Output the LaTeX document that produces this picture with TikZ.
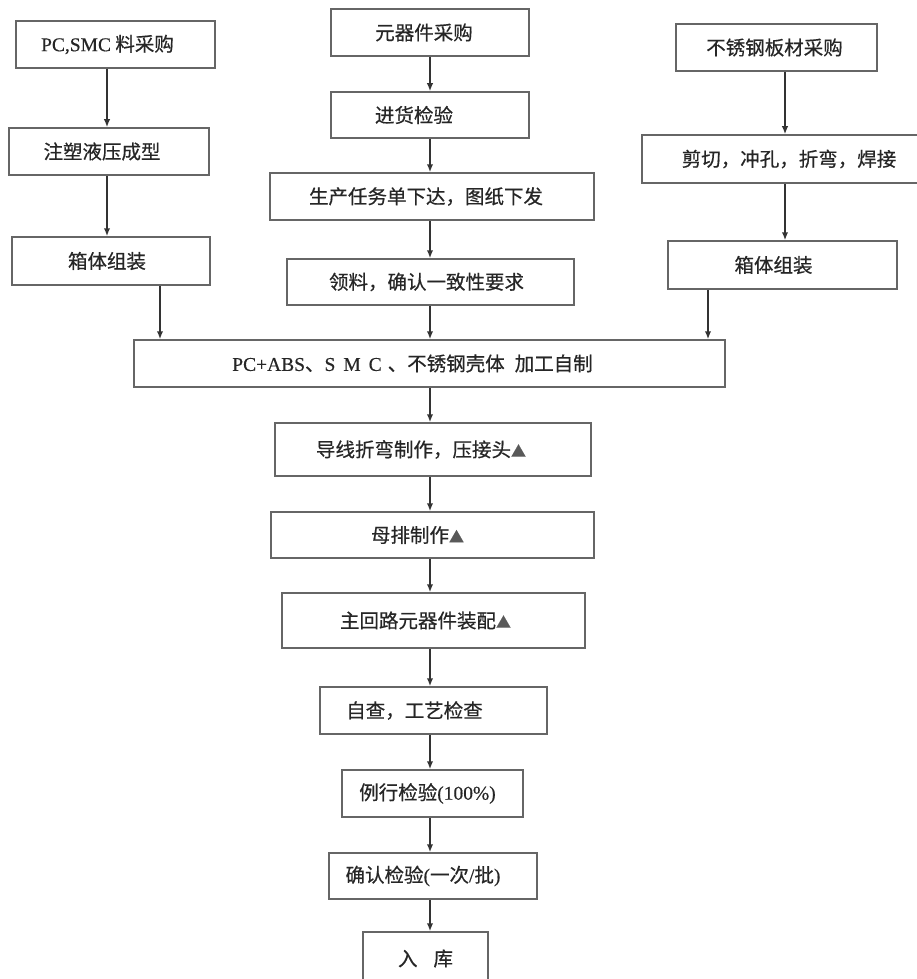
\documentclass[tikz,border=0pt]{standalone}
\usepackage{fontspec}
\setmainfont{Liberation Serif}[FakeBold=0.5]
\newfontfamily\cjk{Noto Sans CJK SC}[FakeBold=0.6]
\usetikzlibrary{arrows.meta}
\newcommand{\tri}{{\color{black!65}\fontsize{15}{15}\selectfont▲}}

\begin{document}
\begin{tikzpicture}[x=1pt,y=-1pt,
	box/.style={draw=black!60,line width=1.5pt,inner sep=0pt,text=black!85,
		font=\cjk\fontsize{19.5}{23}\selectfont},
	arr/.style={draw=black!80,line width=1.6pt,-{Latex[length=8pt,width=6.5pt]}}]
	
	\clip (0,0) rectangle (917,979);
	\useasboundingbox (0,0) rectangle (917,979);
	
	%左列
	\node[box,minimum width=199pt,minimum height=47pt] (pcsmc) at (115.5,44.5) {{\rmfamily PC,SMC} 料采购\kern16pt};
	\node[box,minimum width=200pt,minimum height=47pt] (zhusu) at (109,151.5) {注塑液压成型\kern14pt};
	\node[box,minimum width=198pt,minimum height=48pt] (xiangL) at (111,261) {箱体组装\kern8pt};
	
	%中列
	\node[box,minimum width=198pt,minimum height=47pt] (yqj) at (430,32.5) {元器件采购\kern12pt};
	\node[box,minimum width=198pt,minimum height=46pt] (jinhuo) at (430,115) {进货检验\kern32pt};
	\node[box,minimum width=324pt,minimum height=47pt] (scrw) at (432,196.5) {生产任务单下达，图纸下发\kern12pt};
	\node[box,minimum width=287pt,minimum height=46pt] (lingliao) at (430.5,282) {领料，确认一致性要求\kern8pt};
	
	%右列
	\node[box,minimum width=201pt,minimum height=47pt] (buxiu) at (776.5,47.5) {不锈钢板材采购\kern4pt};
	\node[box,minimum width=294pt,minimum height=48pt] (jianqie) at (789,159) {剪切，冲孔，折弯，焊接};
	\node[box,minimum width=229pt,minimum height=48pt] (xiangR) at (782.5,265) {箱体组装\kern18pt};
	
	%壳体
	\node[box,minimum width=591pt,minimum height=47pt] (big) at (429.5,363.5) {{\rmfamily PC+ABS}、{\rmfamily S\hspace{8pt}M\hspace{8pt}C}\hspace{6pt}、不锈钢壳体\hspace{10pt}加工自制\kern34pt};
	
	%装配
	\node[box,minimum width=316pt,minimum height=53pt] (daoxian) at (433,449.5) {导线折弯制作，压接头\tri\kern24pt};
	\node[box,minimum width=323pt,minimum height=46pt] (muapai) at (432.5,535) {母排制作\tri\kern30pt};
	\node[box,minimum width=303pt,minimum height=55pt] (zhuhuilu) at (433.5,620.5) {主回路元器件装配\tri\kern16pt};
	\node[box,minimum width=227pt,minimum height=47pt] (zicha) at (433.5,710.5) {自查，工艺检查\kern38pt};
	\node[box,minimum width=181pt,minimum height=47pt] (lixing) at (432.5,793.5) {例行检验{\rmfamily(100\%)}\kern10pt};
	\node[box,minimum width=208pt,minimum height=46pt] (queren) at (433,876) {确认检验{\rmfamily(}一次{\rmfamily/}批{\rmfamily)}\kern20pt};
	\node[box,minimum width=125pt,minimum height=53pt] (ruku) at (425.5,958.5) {入\hspace{16pt}库};
	
	%箭头
	\coordinate (colL) at (107,0);
	\coordinate (colC) at (430,0);
	\coordinate (colR) at (785,0);
	\coordinate (inL) at (160,0);
	\coordinate (inR) at (708,0);
	
	\draw[arr] (pcsmc.south -| colL) -- (zhusu.north -| colL);
	\draw[arr] (zhusu.south -| colL) -- (xiangL.north -| colL);
	\draw[arr] (xiangL.south -| inL) -- (big.north -| inL);
	
	\foreach \a/\b in {yqj/jinhuo,jinhuo/scrw,scrw/lingliao,lingliao/big,big/daoxian,daoxian/muapai,muapai/zhuhuilu,zhuhuilu/zicha,zicha/lixing,lixing/queren,queren/ruku}
	\draw[arr] (\a.south -| colC) -- (\b.north -| colC);
	
	\draw[arr] (buxiu.south -| colR) -- (jianqie.north -| colR);
	\draw[arr] (jianqie.south -| colR) -- (xiangR.north -| colR);
	\draw[arr] (xiangR.south -| inR) -- (big.north -| inR);
\end{tikzpicture}
\end{document}
